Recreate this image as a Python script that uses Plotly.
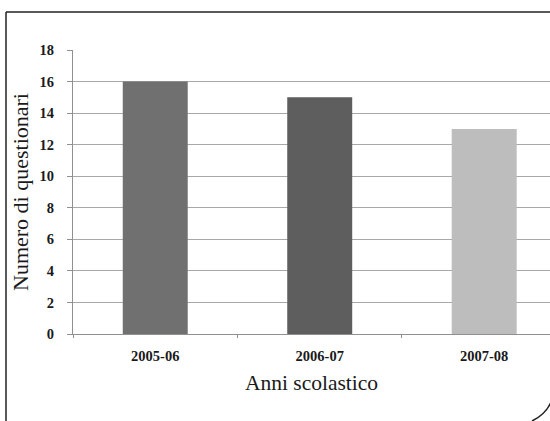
import plotly.graph_objects as go

# School years and number of questionnaires collected
anni = ["2005-06", "2006-07", "2007-08"]
questionari = [16, 15, 13]
colori = ["#707070", "#5e5e5e", "#bdbdbd"]
y_ticks = [0, 2, 4, 6, 8, 10, 12, 14, 16, 18]

fig = go.Figure(
    go.Bar(
        x=anni,
        y=questionari,
        marker=dict(color=colori, line=dict(width=0)),
        width=0.395,
    )
)

serif = "Liberation Serif, Times New Roman, serif"

fig.update_layout(
    width=550,
    height=421,
    margin=dict(l=73, r=0, t=50, b=87),
    paper_bgcolor="white",
    plot_bgcolor="white",
    showlegend=False,
    font=dict(family=serif, color="#1a1a1a"),
    xaxis=dict(
        type="category",
        range=[-0.5, 2.4],
        tickson="boundaries",
        ticks="outside",
        ticklen=3,
        tickcolor="#909090",
        showline=True,
        linecolor="#909090",
        linewidth=1,
        showgrid=False,
        ticklabelstandoff=9,
        tickfont=dict(family=serif, size=14.5, color="#1a1a1a", weight="bold"),
        title=dict(text="Anni scolastico", font=dict(family=serif, size=21.5), standoff=11),
    ),
    yaxis=dict(
        range=[0, 18],
        tickvals=y_ticks,
        ticks="outside",
        ticklen=5,
        tickcolor="#909090",
        showline=True,
        linecolor="#909090",
        linewidth=1,
        showgrid=True,
        gridcolor="#a8a8a8",
        gridwidth=1,
        zeroline=False,
        ticklabelstandoff=10,
        tickfont=dict(family=serif, size=14.5, color="#1a1a1a", weight="bold"),
        title=dict(text="Numero di questionari", font=dict(family=serif, size=22), standoff=4),
    ),
    shapes=[
        # chart frame: top and left edges
        dict(type="line", xref="paper", yref="paper",
             x0=-67 / 477, x1=1.0, y0=(421 - 12 - 87) / 284, y1=(421 - 12 - 87) / 284,
             line=dict(color="#222222", width=1.5)),
        dict(type="line", xref="paper", yref="paper",
             x0=-67 / 477, x1=-67 / 477, y0=(421 - 12 - 87) / 284, y1=-87 / 284,
             line=dict(color="#222222", width=1.5)),
    ],
)

# rounded bottom-right corner of the frame, in pixel-based paper coordinates
def px(x):
    return (x - 73) / 477

def py(y):
    return (334 - y) / 284

fig.add_shape(
    type="path",
    xref="paper", yref="paper",
    path=f"M {px(532)} {py(421)} Q {px(546)} {py(414)} {px(551)} {py(402)}",
    line=dict(color="#222222", width=1.5),
)

fig.write_html("out.html")
